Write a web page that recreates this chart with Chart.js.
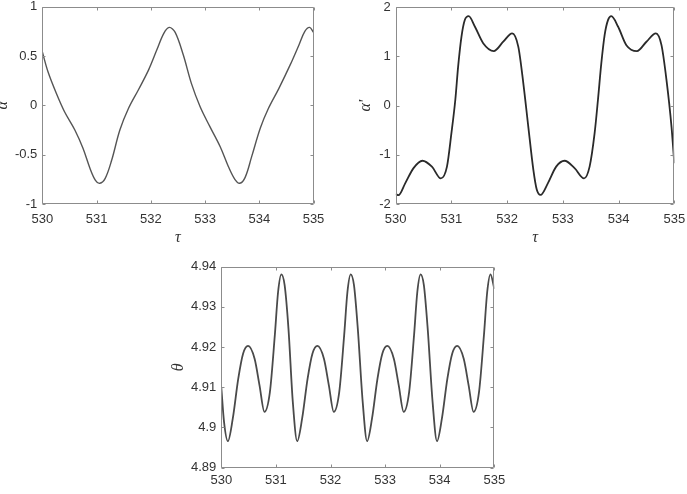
<!DOCTYPE html>
<html>
<head>
<meta charset="utf-8">
<script src="https://cdn.jsdelivr.net/npm/chart.js@4.4.0/dist/chart.umd.min.js"></script>
<style>
html, body { margin: 0; padding: 0; background: #fff; overflow: hidden; }
body { width: 687px; height: 494px; position: relative; }
canvas { position: absolute; }
</style>
</head>
<body>
<canvas id="alphaChart" width="345" height="262" style="left:-5px;top:-10px"></canvas>
<canvas id="alphaPrimeChart" width="362" height="262" style="left:345px;top:-10px"></canvas>
<canvas id="thetaChart" width="360" height="244" style="left:160px;top:250px"></canvas>
<script>
// shared x axis
const xTicks = [530, 531, 532, 533, 534, 535];

// alpha(tau)
const tauA = [530.00, 530.105, 530.26, 530.41, 530.60, 530.75, 530.88, 530.98, 531.06, 531.16,
              531.28, 531.43, 531.59, 531.77, 531.96, 532.11, 532.24, 532.34, 532.45, 532.60,
              532.75, 532.91, 533.09, 533.28, 533.43, 533.55, 533.64, 533.74, 533.86, 534.02,
              534.17, 534.36, 534.57, 534.73, 534.84, 534.93, 535.00];
const alphaVals = [0.544, 0.34, 0.12, -0.065, -0.25, -0.435, -0.64, -0.76, -0.79, -0.74,
                   -0.554, -0.25, -0.03, 0.156, 0.36, 0.56, 0.73, 0.79, 0.74, 0.51,
                   0.22, -0.014, -0.216, -0.42, -0.62, -0.75, -0.79, -0.73, -0.52, -0.23,
                   -0.03, 0.17, 0.41, 0.61, 0.75, 0.79, 0.74];
const alphaTicks = [-1, -0.5, 0, 0.5, 1];

// alpha'(tau)
const tauB = [530.00, 530.05, 530.17, 530.32, 530.48, 530.65, 530.81, 530.92, 531.00, 531.07,
              531.12, 531.18, 531.24, 531.31, 531.42, 531.57, 531.76, 531.93, 532.09, 532.20,
              532.29, 532.38, 532.47, 532.53, 532.60, 532.73, 532.88, 533.03, 533.21, 533.38,
              533.48, 533.57, 533.63, 533.69, 533.75, 533.81, 533.87, 533.99, 534.14, 534.33,
              534.50, 534.67, 534.77, 534.86, 534.95, 535.00];
const alphaPrimeVals = [-1.80, -1.82, -1.58, -1.27, -1.12, -1.24, -1.48, -1.24, -0.56, 0.12,
                        0.79, 1.40, 1.74, 1.82, 1.61, 1.27, 1.11, 1.30, 1.47, 1.20,
                        0.46, -0.43, -1.30, -1.70, -1.815, -1.58, -1.24, -1.12, -1.27, -1.48,
                        -1.24, -0.56, 0.12, 0.86, 1.44, 1.74, 1.82, 1.61, 1.23, 1.11,
                        1.30, 1.47, 1.23, 0.52, -0.43, -1.17];
const alphaPrimeTicks = [-2, -1, 0, 1, 2];

// theta(tau)
const tauC = [530.00, 530.05, 530.12, 530.21, 530.31, 530.40, 530.49, 530.61, 530.70, 530.79,
              530.89, 530.98, 531.04, 531.10, 531.16, 531.23, 531.31, 531.39, 531.48, 531.58,
              531.67, 531.76, 531.88, 531.97, 532.06, 532.16, 532.25, 532.31, 532.37, 532.43,
              532.50, 532.59, 532.67, 532.76, 532.86, 532.95, 533.04, 533.16, 533.25, 533.34,
              533.44, 533.53, 533.59, 533.65, 533.71, 533.78, 533.87, 533.95, 534.04, 534.14,
              534.23, 534.32, 534.44, 534.53, 534.62, 534.72, 534.81, 534.87, 534.93, 535.00];
const thetaVals = [4.910, 4.9014, 4.8966, 4.9022, 4.9121, 4.9184, 4.9203, 4.9171, 4.9105, 4.9039,
                   4.9088, 4.9229, 4.9337, 4.9381, 4.9354, 4.9246, 4.9063, 4.8966, 4.9022, 4.9121,
                   4.9184, 4.9203, 4.9171, 4.9105, 4.9039, 4.9088, 4.9229, 4.9337, 4.9381, 4.9354,
                   4.9246, 4.9063, 4.8966, 4.9022, 4.9121, 4.9184, 4.9203, 4.9171, 4.9105, 4.9039,
                   4.9088, 4.9229, 4.9337, 4.9381, 4.9354, 4.9246, 4.9063, 4.8966, 4.9022, 4.9121,
                   4.9184, 4.9203, 4.9171, 4.9105, 4.9039, 4.9088, 4.9229, 4.9337, 4.9381, 4.9345];
const thetaTicks = [4.89, 4.9, 4.91, 4.92, 4.93, 4.94];

const tickFont = { family: "'Liberation Sans', Arial, sans-serif", size: 13, lineHeight: 1 };
const titleFont = { family: "'Liberation Serif', 'Times New Roman', serif", size: 16, style: 'italic', lineHeight: 1 };

// MATLAB style box with inward ticks
const boxPlugin = {
    id: 'box',
    afterDatasetsDraw(chart) {
        const { ctx, chartArea: a, scales } = chart;
        const l = Math.round(a.left) + 0.5, r = Math.round(a.right) - 0.5;
        const t = Math.round(a.top) + 0.5, b = Math.round(a.bottom) - 0.5;
        ctx.save();
        ctx.strokeStyle = '#8c8c8c';
        ctx.lineWidth = 1;
        ctx.beginPath();
        ctx.rect(l, t, r - l, b - t);
        scales.x.ticks.forEach(tk => {
            const px = Math.round(scales.x.getPixelForValue(tk.value)) + 0.5;
            ctx.moveTo(px, b); ctx.lineTo(px, b - 3);
            ctx.moveTo(px, t); ctx.lineTo(px, t + 3);
        });
        scales.y.ticks.forEach(tk => {
            const py = Math.round(scales.y.getPixelForValue(tk.value)) + 0.5;
            ctx.moveTo(l, py); ctx.lineTo(l + 3, py);
            ctx.moveTo(r, py); ctx.lineTo(r - 3, py);
        });
        ctx.stroke();
        ctx.restore();
    }
};

function makeChart(id, o) {
    const pts = o.tau.map((t, i) => ({ x: t, y: o.vals[i] }));
    const ds = { data: pts, borderColor: o.color, borderWidth: o.lineWidth, pointRadius: 0, fill: false };
    if (o.tension) ds.tension = o.tension;
    else ds.cubicInterpolationMode = 'monotone';
    return new Chart(document.getElementById(id), {
        type: 'line',
        data: { datasets: [ds] },
        options: {
            responsive: false,
            animation: false,
            layout: { padding: { top: o.padTop, right: o.padRight, left: 0, bottom: 0 } },
            plugins: { legend: { display: false }, tooltip: { enabled: false } },
            scales: {
                x: {
                    type: 'linear', min: 530, max: 535,
                    afterBuildTicks: s => { s.ticks = xTicks.map(v => ({ value: v })); },
                    ticks: { font: tickFont, color: '#333', padding: o.xTickPad, maxRotation: 0, autoSkip: false,
                             callback: v => String(v) },
                    grid: { display: false, drawTicks: false },
                    border: { display: false },
                    title: { display: !!o.xTitle, text: o.xTitle || '', font: titleFont, color: '#333',
                             padding: { top: 0, bottom: 6 } },
                    afterFit: s => { s.height = o.xH; }
                },
                y: {
                    type: 'linear', min: o.yTicks[0], max: o.yTicks[o.yTicks.length - 1],
                    afterBuildTicks: s => { s.ticks = o.yTicks.map(v => ({ value: v })); },
                    ticks: { font: tickFont, color: '#333', padding: 5, callback: v => String(v) },
                    grid: { display: false, drawTicks: false },
                    border: { display: false },
                    title: { display: true, text: o.yTitle, font: titleFont, color: '#333',
                             padding: { top: o.yTitlePad, bottom: 0 } },
                    afterFit: s => { s.width = o.yW; }
                }
            }
        },
        plugins: [boxPlugin]
    });
}

makeChart('alphaChart', {
    tau: tauA, vals: alphaVals, yTicks: alphaTicks, yTitle: 'α', xTitle: 'τ',
    color: '#555', lineWidth: 1.4, tension: 0.35,
    yW: 47.3, xH: 48, padTop: 16.7, padRight: 26.5, yTitlePad: 0, xTickPad: 9
});

makeChart('alphaPrimeChart', {
    tau: tauB, vals: alphaPrimeVals, yTicks: alphaPrimeTicks, yTitle: "α'", xTitle: 'τ',
    color: '#2a2a2a', lineWidth: 1.8,
    yW: 50.7, xH: 48, padTop: 17.3, padRight: 32.7, yTitlePad: 13, xTickPad: 9
});

makeChart('thetaChart', {
    tau: tauC, vals: thetaVals, yTicks: thetaTicks, yTitle: 'θ', xTitle: '',
    color: '#4a4a4a', lineWidth: 1.8,
    yW: 61.3, xH: 26.3, padTop: 16.7, padRight: 25.7, yTitlePad: 11, xTickPad: 6
});
</script>
</body>
</html>
